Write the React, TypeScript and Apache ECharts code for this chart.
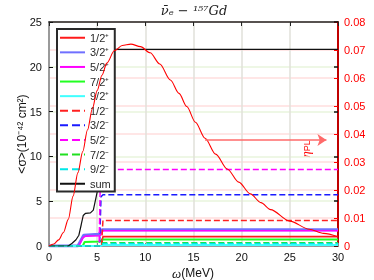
import React, { useEffect, useRef } from "react";
import * as echarts from "echarts";

// ---- data ----
const xTicks = [0, 5, 10, 15, 20, 25, 30];
const leftTicks = [0, 5, 10, 15, 20, 25];
const rightTicks = [0, 0.01, 0.02, 0.03, 0.04, 0.05, 0.06, 0.07, 0.08];

const legendNames = ["1/2⁺", "3/2⁺", "5/2⁺", "7/2⁺", "9/2⁺", "1/2⁻", "3/2⁻", "5/2⁻", "7/2⁻", "9/2⁻", "sum"];

// cross sections <σ> (1e-42 cm^2) vs ω (MeV)
const p12 = [[0, 0], [5.45, 0], [5.6, 1.05], [30, 1.05]];
const p32 = [[0, 0], [3.0, 0], [3.3, 0.6], [3.6, 1.2], [5.2, 1.3], [5.5, 1.8], [30, 1.8]];
const p52 = [[0, 0], [3.1, 0], [3.5, 0.9], [3.8, 1.1], [5.3, 1.15], [5.6, 1.7], [30, 1.7]];
const p72 = [[0, 0], [3.5, 0], [3.7, 0.45], [5.3, 0.5], [5.6, 0.72], [30, 0.72]];
const p92 = [[0, 0], [5.4, 0], [5.6, 0.12], [30, 0.12]];
const m12 = [[0, 0], [5.45, 0], [5.6, 2.85], [30, 2.85]];
const m32 = [[0, 0], [5.25, 0], [5.4, 5.5], [5.6, 5.72], [30, 5.72]];
const m52 = [[0, 0], [5.2, 0], [5.35, 8.55], [30, 8.55]];
const m72 = [[0, 0], [5.4, 0], [5.6, 0.35], [30, 0.35]];
const m92 = [[0, 0], [5.4, 0], [5.6, 0.28], [30, 0.28]];
const sumPts = [[0, 0], [2.0, 0], [2.4, 0.3], [2.8, 0.7], [3.1, 1.2], [3.35, 2.4], [3.55, 3.4], [3.8, 3.65], [4.3, 3.7], [4.6, 4.0], [4.8, 5.0], [5.0, 6.0], [5.2, 9.0], [5.4, 20.0], [5.6, 21.95], [30, 21.95]];

// eta_PL (right axis)
const etaX = [0, 0.5, 1.0, 1.5, 2.0, 2.5, 3.0, 3.5, 4.0, 4.5, 5.0, 5.5, 6.0, 6.8, 7.6, 8.5, 9.5, 10.5, 11.5, 12.6, 13.5, 14.3, 15.2, 16.2, 17.3, 18.5, 19.7, 20.9, 22.0, 23.0, 25.0, 27.0, 28.5, 30];
const etaY = [0, 0.0007, 0.0022, 0.0048, 0.0095, 0.0178, 0.0262, 0.0337, 0.0415, 0.049, 0.0555, 0.061, 0.0653, 0.0698, 0.0716, 0.0721, 0.0712, 0.069, 0.065, 0.0593, 0.0545, 0.0498, 0.0442, 0.0385, 0.0328, 0.0275, 0.0228, 0.0186, 0.0155, 0.013, 0.0089, 0.006, 0.0045, 0.0033];

const arrowFrom = [16.2, 0.0379];
const arrowTo = [28.8, 0.0379];

const FONT = "'Liberation Sans', Arial, Helvetica, sans-serif";

export default function App() {
  const ref = useRef<HTMLDivElement>(null);
  useEffect(() => {
    if (!ref.current) return;
    const chart = echarts.init(ref.current, undefined, { renderer: "svg" });
    const mk = (name: string, data: number[][], color: string, width: number, type: string) => ({
      name,
      type: "line",
      data,
      symbol: "none",
      xAxisIndex: 0,
      yAxisIndex: 0,
      lineStyle: { color, width, type },
      itemStyle: { color },
      z: 3,
    });
    const etaData = etaX.map((x, i) => [x, etaY[i]]);
    chart.setOption({
      animation: false,
      textStyle: { fontFamily: FONT },
      grid: { left: 49, right: 36, top: 22, bottom: 34 },
      xAxis: [
        {
          type: "value", position: "bottom", min: 0, max: 30, interval: 5,
          axisLine: { show: true, onZero: false, lineStyle: { color: "#9a9a9a", width: 2 } },
          axisTick: { show: true, inside: true, length: 3, lineStyle: { color: "#888" } },
          axisLabel: { color: "#111", fontSize: 11, margin: 5, fontFamily: FONT },
          splitLine: { show: true, lineStyle: { color: "#e0e0da", width: 1.5 } },
        },
        {
          type: "value", position: "top", min: 0, max: 30, interval: 5,
          axisLine: { show: true, onZero: false, lineStyle: { color: "#222", width: 1.5 } },
          axisTick: { show: true, inside: true, length: 4, lineStyle: { color: "#222" } },
          axisLabel: { show: false },
          splitLine: { show: false },
        },
      ],
      yAxis: [
        {
          type: "value", position: "left", min: 0, max: 25, interval: 5,
          axisLine: { show: true, onZero: false, lineStyle: { color: "#9a9a9a", width: 2 } },
          axisTick: { show: true, inside: true, length: 4, lineStyle: { color: "#111" } },
          axisLabel: { color: "#111", fontSize: 11, margin: 7, fontFamily: FONT },
          splitLine: { show: true, lineStyle: { color: "#e8f4dc", width: 1.5 } },
        },
        {
          type: "value", position: "right", min: 0, max: 0.08, interval: 0.01,
          axisLine: { show: true, onZero: false, lineStyle: { color: "#c00000", width: 2 } },
          axisTick: { show: true, inside: true, length: 4, lineStyle: { color: "#ff0000" } },
          axisLabel: {
            color: "#ff0000", fontSize: 11, margin: 6, fontFamily: FONT,
            formatter: (v: number) => (v === 0 ? "0" : v.toFixed(2)),
          },
          splitLine: { show: true, lineStyle: { color: "#ffdede", width: 1.5 } },
        },
        {
          type: "value", position: "right", min: 0, max: 25, interval: 5,
          axisLine: { show: false, onZero: false },
          axisTick: { show: true, inside: true, length: 4, lineStyle: { color: "#111", width: 1.5 } },
          axisLabel: { show: false },
          splitLine: { show: false },
        },
      ],
      legend: {
        data: legendNames,
        orient: "vertical",
        left: 57,
        top: 29,
        padding: [3, 4, 2, 2],
        itemWidth: 25,
        itemHeight: 10,
        itemGap: 3.1,
        itemTextGap: 2,
        itemStyle: { opacity: 0 },
        backgroundColor: "#ffffff",
        borderColor: "#2a2a2a",
        borderWidth: 2,
        borderRadius: 0,
        textStyle: { color: "#2a2a2a", fontSize: 11, fontFamily: FONT, lineHeight: 11.5 },
      },
      series: [
        {
          name: "eta",
          type: "line",
          data: etaData,
          smooth: 0.3,
          smoothMonotone: "x",
          symbol: "none",
          xAxisIndex: 0,
          yAxisIndex: 1,
          lineStyle: { color: "#ff0000", width: 1.1 },
          itemStyle: { color: "#ff0000" },
          z: 4,
          markLine: {
            silent: true,
            symbol: ["none", "arrow"],
            symbolSize: 9,
            label: { show: false },
            lineStyle: { color: "#ff6a6a", width: 1.5, type: "solid" },
            data: [[{ coord: arrowFrom }, { coord: arrowTo }]],
          },
        },
        mk(legendNames[0], p12, "#ff1a1a", 1.6, "solid"),
        mk(legendNames[1], p32, "#7070ff", 3, "solid"),
        mk(legendNames[2], p52, "#ff00ff", 1.6, "solid"),
        mk(legendNames[3], p72, "#22ff22", 2, "solid"),
        mk(legendNames[4], p92, "#40ffff", 2, "solid"),
        mk(legendNames[5], m12, "#ff2020", 1.5, "dashed"),
        mk(legendNames[6], m32, "#1a1aff", 1.5, "dashed"),
        mk(legendNames[7], m52, "#ff00ff", 1.5, "dashed"),
        mk(legendNames[8], m72, "#20e020", 1.5, "dashed"),
        mk(legendNames[9], m92, "#00e8e8", 1.5, "dashed"),
        mk(legendNames[10], sumPts, "#111111", 1.2, "solid"),
      ],
      graphic: [
        {
          type: "text", x: 194, y: 10,
          style: {
            text: "ν̄ₑ − ¹⁵⁷Gd", fill: "#222", fontSize: 13, fontStyle: "italic",
            fontFamily: "'DejaVu Serif', 'Liberation Serif', serif",
            textAlign: "center", textVerticalAlign: "middle",
          },
        },
        {
          type: "text", x: 22, y: 134, rotation: Math.PI / 2,
          style: {
            text: "<σ>(10⁻⁴² cm²)", fill: "#111", fontSize: 12, fontFamily: FONT,
            textAlign: "center", textVerticalAlign: "middle",
          },
        },
        {
          type: "text", x: 193, y: 273,
          style: {
            text: "{i|ω}(MeV)", fill: "#111", fontSize: 12, fontFamily: FONT,
            textAlign: "center", textVerticalAlign: "middle",
            rich: { i: { fontStyle: "italic", fontSize: 13, fill: "#111", fontFamily: "'Liberation Serif', serif" } },
          },
        },
        {
          type: "text", x: 305, y: 149, rotation: Math.PI / 2,
          style: {
            text: "{a|η}{b|PL}", fill: "#ff0000", fontSize: 12, fontFamily: FONT,
            textAlign: "center", textVerticalAlign: "middle",
            rich: {
              a: { fontSize: 13, fill: "#ff0000", fontStyle: "italic", fontFamily: "'Liberation Serif', serif", verticalAlign: "top" },
              b: { fontSize: 9, fill: "#ff0000", fontFamily: FONT, verticalAlign: "bottom" },
            },
          },
        },
      ],
    });
    return () => chart.dispose();
  }, []);
  return <div ref={ref} style={{ position: "fixed", left: 0, top: 0, width: 374, height: 280 }} />;
}
